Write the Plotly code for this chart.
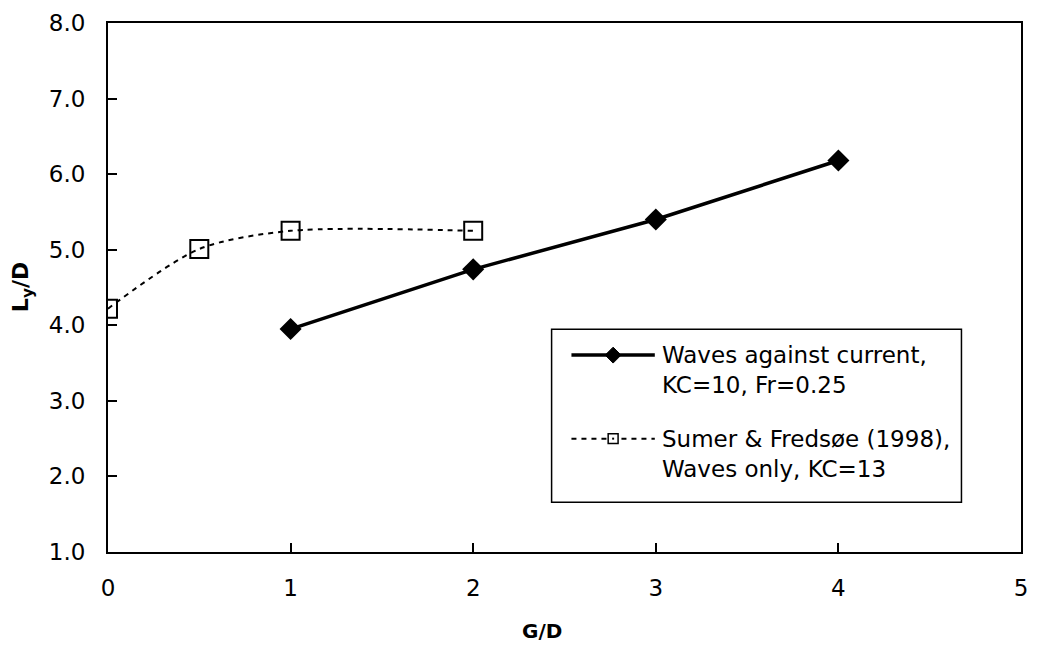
import plotly.graph_objects as go

# Waves against current, KC=10, Fr=0.25
gd_current = [1, 2, 3, 4]
ly_current = [3.95, 4.74, 5.40, 6.18]

# Sumer & Fredsøe (1998), waves only, KC=13
gd_sumer = [0, 0.5, 1, 2]
ly_sumer = [4.22, 5.01, 5.25, 5.25]

x_ticks = [0, 1, 2, 3, 4, 5]
y_ticks = [1, 2, 3, 4, 5, 6, 7, 8]

legend_labels = [
    "Waves against current,<br>KC=10, Fr=0.25",
    "Sumer & Fredsøe (1998),<br>Waves only, KC=13",
]

W, H = 1038, 645
M_L, M_R, M_T, M_B = 108, 10, 20, 93
PW, PH = W - M_L - M_R, H - M_T - M_B
FONT = "DejaVu Sans, Liberation Sans, Arial, sans-serif"


def px(x):
    return (x - M_L) / PW


def py(y):
    return (H - M_B - y) / PH


fig = go.Figure()

fig.add_trace(go.Scatter(
    x=gd_current, y=ly_current, mode="lines+markers", showlegend=False,
    line=dict(color="black", width=3.5),
    marker=dict(symbol="diamond", size=17, color="black"),
))

fig.add_trace(go.Scatter(
    x=gd_sumer, y=ly_sumer, mode="lines+markers", showlegend=False,
    line=dict(color="black", width=2, dash="5px,5px", shape="spline", smoothing=0.8),
    marker=dict(symbol="square-open", size=18, color="black", line=dict(width=2)),
))

# Legend box drawn in paper space
shapes = [
    dict(type="rect", xref="paper", yref="paper",
         x0=px(555), x1=px(968), y0=py(502), y1=py(328),
         line=dict(color="black", width=1.5), fillcolor="white", layer="above"),
    # entry 1: solid line with diamond
    dict(type="line", xref="paper", yref="paper",
         x0=px(575), x1=px(659), y0=py(354), y1=py(354),
         line=dict(color="black", width=3.5), layer="above"),
    dict(type="path", xref="paper", yref="paper",
         path=(f"M {px(609)} {py(354)} L {px(617)} {py(346)} "
               f"L {px(625)} {py(354)} L {px(617)} {py(362)} Z"),
         fillcolor="black", line=dict(color="black", width=1), layer="above"),
    # entry 2: dashed line with open square
    dict(type="line", xref="paper", yref="paper",
         x0=px(575), x1=px(659), y0=py(438), y1=py(438),
         line=dict(color="black", width=2, dash="5px,5px"), layer="above"),
    dict(type="rect", xref="paper", yref="paper",
         x0=px(612), x1=px(622), y0=py(443), y1=py(433),
         fillcolor="white", line=dict(color="black", width=1.5), layer="above"),
    dict(type="rect", xref="paper", yref="paper",
         x0=px(616), x1=px(618), y0=py(439), y1=py(437),
         fillcolor="black", line=dict(width=0), layer="above"),
]

annotations = [
    dict(xref="paper", yref="paper", x=px(664), y=py(368.5),
         xanchor="left", yanchor="middle", align="left", showarrow=False,
         text=legend_labels[0], font=dict(family=FONT, size=23, color="black")),
    dict(xref="paper", yref="paper", x=px(664), y=py(453.5),
         xanchor="left", yanchor="middle", align="left", showarrow=False,
         text=legend_labels[1], font=dict(family=FONT, size=23, color="black")),
    # axis titles
    dict(xref="paper", yref="paper", x=px(545), y=py(631),
         xanchor="center", yanchor="middle", showarrow=False,
         text="<b>G/D</b>", font=dict(family=FONT, size=20, color="black")),
    dict(xref="paper", yref="paper", x=px(22), y=py(286),
         xanchor="center", yanchor="middle", showarrow=False, textangle=-90,
         text="<b>L<sub>y</sub>/D</b>", font=dict(family=FONT, size=22, color="black")),
]

fig.update_layout(
    width=W, height=H,
    margin=dict(l=M_L, r=M_R, t=M_T, b=M_B),
    paper_bgcolor="white", plot_bgcolor="white",
    font=dict(family=FONT, size=23, color="black"),
    shapes=shapes, annotations=annotations,
)

axis_common = dict(
    showgrid=False, zeroline=False,
    showline=True, linecolor="black", linewidth=2, mirror=True,
    ticks="inside", ticklen=9, tickwidth=1.5, tickcolor="black",
    tickfont=dict(family=FONT, size=23, color="black"),
)
fig.update_xaxes(
    range=[0, 5], tickvals=x_ticks, ticktext=[str(v) for v in x_ticks],
    ticklabelstandoff=14, **axis_common,
)
fig.update_yaxes(
    range=[1, 8], tickvals=y_ticks, ticktext=[f"{v:.1f}" for v in y_ticks],
    ticklabelstandoff=16, **axis_common,
)

fig.write_html("out.html")
